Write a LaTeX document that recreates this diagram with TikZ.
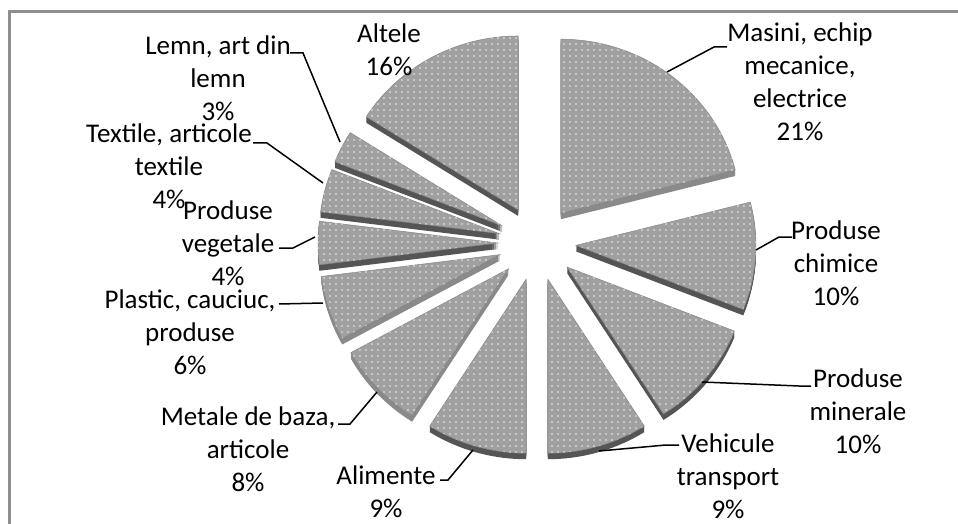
\documentclass[tikz,border=0pt]{standalone}
\usepackage{fontspec}
\setmainfont{Carlito}
\usetikzlibrary{calc,patterns.meta}
\definecolor{topgray}{HTML}{A0A0A0}
\definecolor{dotgray}{HTML}{D6D6D6}
\definecolor{edgegray}{HTML}{858585}
\definecolor{sidedark}{HTML}{555555}
\definecolor{sidemid}{HTML}{6E6E6E}
\definecolor{sidelight}{HTML}{8A8A8A}
\definecolor{framegray}{HTML}{8F8F8F}
\newcommand\pieslice[4]{%
  \pgfmathsetmacro\bis{(#1+#2)/2}%
  \coordinate (#4) at ($(537,-243)+(\bis:39 and 37.7)$);%
  \foreach \k in {1,...,6}{%
    \fill[#3] ([yshift=-\k pt]#4) -- +(#1:180 and 174)
      arc[start angle=#1,end angle=#2,x radius=180,y radius=174] -- cycle;}%
  \path[topface] (#4) -- +(#1:180 and 174)
      arc[start angle=#1,end angle=#2,x radius=180,y radius=174] -- cycle;%
}
\begin{document}
\begin{tikzpicture}[x=1pt,y=1pt,
  lbl/.style={align=center,font=\fontsize{27}{33}\selectfont,inner sep=0pt},
  leader/.style={line width=1.5pt,black},
  topface/.style={fill=topgray,draw=edgegray,line width=0.5pt,
    postaction={pattern={Dots[distance=6pt,radius=1.1pt]},pattern color=dotgray}},
  frame/.style={draw=framegray,line width=3pt}]
\useasboundingbox (0,0) rectangle (958,-524);
\clip (0,0) rectangle (958,-524);
\fill[white] (0,0) rectangle (958,-524);
\draw[frame] (9.5,-11.5) rectangle (990,-560);

% slices, back to front
\pieslice{-212.4}{-270}{sidedark}{vAlt}
\pieslice{90}{14.4}{sidelight}{vMas}
\pieslice{-201.6}{-212.4}{sidedark}{vLem}
\pieslice{-187.2}{-201.6}{sidedark}{vTex}
\pieslice{-172.8}{-187.2}{sidedark}{vVeg}
\pieslice{14.4}{-21.6}{sidedark}{vChi}
\pieslice{-151.2}{-172.8}{sidelight}{vPla}
\pieslice{-21.6}{-57.6}{sidedark}{vMin}
\pieslice{-122.4}{-151.2}{sidelight}{vMet}
\pieslice{-57.6}{-90}{sidedark}{vVeh}
\pieslice{-90}{-122.4}{sidedark}{vAli}

% labels
\node[lbl] (lAlt) at (389,-50) {Altele\\16\%};
\node[lbl] (lMas) at (800,-82) {Masini, echip\\mecanice,\\electrice\\21\%};
\node[lbl] (lChi) at (836,-263) {Produse\\chimice\\10\%};
\node[lbl] (lMin) at (858,-411) {Produse\\minerale\\10\%};
\node[lbl] (lVeh) at (728,-476) {Vehicule\\transport\\9\%};
\node[lbl] (lAli) at (386,-492) {Alimente\\9\%};
\node[lbl] (lMet) at (248,-449) {Metale de baza,\\articole\\8\%};
\node[lbl] (lPla) at (190,-332) {Plastic, cauciuc,\\produse\\6\%};
\node[lbl] (lVeg) at (228,-243) {Produse\\vegetale\\4\%};
\node[lbl] (lTex) at (169,-166) {Textile, articole\\textile\\4\%};
\node[lbl] (lLem) at (218,-78) {Lemn, art din\\lemn\\3\%};

% leader points
\coordinate (aMas) at (727,-47);  \coordinate (bMas) at (714,-47);  \coordinate (cMas) at (667,-72);
\coordinate (aChi) at (792,-237); \coordinate (bChi) at (779,-237); \coordinate (cChi) at (756,-250);
\coordinate (aMin) at (811,-386); \coordinate (bMin) at (799,-386); \coordinate (cMin) at (702,-382);
\coordinate (aVeh) at (679,-445); \coordinate (bVeh) at (666,-445); \coordinate (cVeh) at (599,-451);
\coordinate (aAli) at (440,-480); \coordinate (bAli) at (448,-480); \coordinate (cAli) at (473,-450);
\coordinate (aMet) at (338,-424); \coordinate (bMet) at (350,-424); \coordinate (cMet) at (377,-392);
\coordinate (aPla) at (279,-304); \coordinate (cPla) at (323,-303);
\coordinate (aVeg) at (279,-248); \coordinate (bVeg) at (293,-248); \coordinate (cVeg) at (315,-237);
\coordinate (aTex) at (253,-143); \coordinate (bTex) at (267,-143); \coordinate (cTex) at (323,-183);
\coordinate (aLem) at (290,-53);  \coordinate (bLem) at (303,-53);  \coordinate (cLem) at (340,-142);

\draw[leader] (aMas) -- (bMas) -- (cMas);
\draw[leader] (aChi) -- (bChi) -- (cChi);
\draw[leader] (aMin) -- (bMin) -- (cMin);
\draw[leader] (aVeh) -- (bVeh) -- (cVeh);
\draw[leader] (aAli) -- (bAli) -- (cAli);
\draw[leader] (aMet) -- (bMet) -- (cMet);
\draw[leader] (aPla) -- (cPla);
\draw[leader] (aVeg) -- (bVeg) -- (cVeg);
\draw[leader] (aTex) -- (bTex) -- (cTex);
\draw[leader] (aLem) -- (bLem) -- (cLem);
\end{tikzpicture}
\end{document}
